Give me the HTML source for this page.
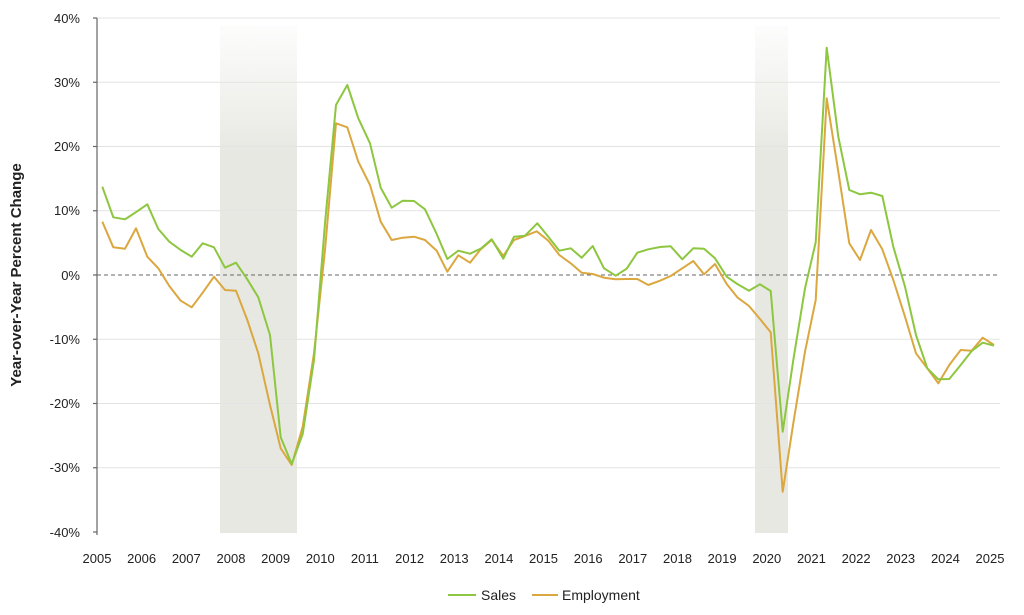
<!DOCTYPE html>
<html><head><meta charset="utf-8"><style>
body{margin:0;background:#fff;}
svg text{font-family:"Liberation Sans",sans-serif;fill:#222;}
</style></head><body>
<svg width="1024" height="610" viewBox="0 0 1024 610" xmlns="http://www.w3.org/2000/svg">
<defs><linearGradient id="rg" x1="0" y1="0" x2="0" y2="1">
<stop offset="0" stop-color="#e8e8e3" stop-opacity="0.1"/><stop offset="0.25" stop-color="#e8e8e3" stop-opacity="1"/><stop offset="1" stop-color="#e8e8e3"/></linearGradient></defs>
<rect x="220" y="26" width="77" height="507" fill="url(#rg)"/>
<rect x="755" y="26" width="33" height="507" fill="url(#rg)"/>
<g stroke="#e3e3e3" stroke-width="1">
<line x1="97" x2="1000" y1="18" y2="18"/><line x1="97" x2="1000" y1="82.25" y2="82.25"/><line x1="97" x2="1000" y1="146.5" y2="146.5"/><line x1="97" x2="1000" y1="210.75" y2="210.75"/><line x1="97" x2="1000" y1="339.25" y2="339.25"/><line x1="97" x2="1000" y1="403.5" y2="403.5"/><line x1="97" x2="1000" y1="467.75" y2="467.75"/>
</g>
<line x1="97" x2="1000" y1="275" y2="275" stroke="#666" stroke-dasharray="4,3" stroke-width="1"/>
<g stroke="#666" stroke-width="1.2"><line x1="97" x2="97" y1="18" y2="535"/>
<line x1="93" x2="97" y1="18" y2="18"/><line x1="93" x2="97" y1="82.25" y2="82.25"/><line x1="93" x2="97" y1="146.5" y2="146.5"/><line x1="93" x2="97" y1="210.75" y2="210.75"/><line x1="93" x2="97" y1="275" y2="275"/><line x1="93" x2="97" y1="339.25" y2="339.25"/><line x1="93" x2="97" y1="403.5" y2="403.5"/><line x1="93" x2="97" y1="467.75" y2="467.75"/><line x1="93" x2="97" y1="532" y2="532"/></g>
<g font-size="13" text-anchor="end">
<text x="80" y="23">40%</text><text x="80" y="87">30%</text><text x="80" y="151">20%</text><text x="80" y="215">10%</text><text x="80" y="280">0%</text><text x="80" y="344">-10%</text><text x="80" y="408">-20%</text><text x="80" y="472">-30%</text><text x="80" y="537">-40%</text></g>
<g font-size="13" text-anchor="middle">
<text x="97" y="563">2005</text><text x="141.6" y="563">2006</text><text x="186.3" y="563">2007</text><text x="231" y="563">2008</text><text x="275.6" y="563">2009</text><text x="320.3" y="563">2010</text><text x="364.9" y="563">2011</text><text x="409.6" y="563">2012</text><text x="454.2" y="563">2013</text><text x="498.9" y="563">2014</text><text x="543.5" y="563">2015</text><text x="588.2" y="563">2016</text><text x="632.8" y="563">2017</text><text x="677.5" y="563">2018</text><text x="722.1" y="563">2019</text><text x="766.8" y="563">2020</text><text x="811.4" y="563">2021</text><text x="856.1" y="563">2022</text><text x="900.7" y="563">2023</text><text x="945.4" y="563">2024</text><text x="990" y="563">2025</text></g>
<text transform="translate(21,275) rotate(-90)" font-size="15" font-weight="bold" text-anchor="middle">Year-over-Year Percent Change</text>
<polyline fill="none" stroke="#dba73f" stroke-width="2" stroke-linejoin="round" points="102.3,221.7 113.3,247.3 125,248.7 136,228.3 147.3,256.7 158.3,268.3 169.3,286 180.7,300.7 191.7,307.3 202.7,292.7 214,276.7 225,290 236,290.7 247.3,320 258.3,353.3 270,405 280.7,448.3 291.7,465 302.7,426.7 314,353.3 325,250 336,123.3 347.3,127.3 358.3,161.7 370,185 380.7,221.7 391.7,240 402.7,237.7 414,236.7 425,240 436.7,250.7 447.3,271.7 458.3,255.3 470,262.7 480.7,249.3 491.7,240 503.3,256 514,240 525,236 536.7,231.3 548.3,240.7 559.3,255 570.7,263.3 581.7,272.7 592.7,274 604,277.7 615.7,279.3 626.7,279 637.3,279 648.3,285 660,280.7 670.7,276 682.3,268.3 693.3,261 704,274.3 715,264 726.7,284 737.3,297.3 749,306 760,319 770.7,332.3 782.7,491.7 793.3,423.3 805,351.7 815.7,300 826.7,98.3 838.3,171.7 849.3,243.3 860,260 871,230 882.3,249.3 893.3,280 905,316.7 916,353.3 927.3,368.3 938.3,383.3 949.3,365 960.7,350 971.7,350.7 982.7,337.7 994,345"/>
<polyline fill="none" stroke="#8dc63f" stroke-width="2" stroke-linejoin="round" points="102.3,186.7 113.3,217.3 125,219.3 136.7,211.7 147.3,204.3 158.3,229 169.3,241.7 180.7,250 191.7,256.7 202.7,243.3 214,247.3 225,267.7 236,262.7 247.3,279.3 258.3,297.3 270,335 280.7,437.3 291.7,464 302.7,434 314,360 325,223.3 336,105 347.3,85 358.3,118.3 370,143.3 380.7,187.7 391.7,207.7 402.7,200.7 414,201 425,209.3 436.7,234 447.3,259 458.3,250.7 470,253.7 480.7,248.7 491.7,239.3 503.3,258.7 514,236.7 525,235.7 537.3,223.3 548.3,236.7 559.3,250.7 570.7,248.3 581.7,257.7 592.7,246 604,268.3 615.7,275.7 626.7,268.7 637.3,252.7 648.3,249.3 660,247 670.7,246.3 682.3,259.3 693.3,248.3 704,248.7 715,258.3 726.7,276.7 737.3,284 749,290.7 760,284.3 770.7,291 782.7,431.7 793.3,360 805,288.3 815.7,242.3 826.7,47.7 838.3,136.7 849.3,190 860,194.3 871,192.7 882.3,196 893.3,246.7 905,286.7 916,335 927.3,368.3 938.3,379.3 949.3,379 960.7,365 971.7,351 982.7,342.7 994,345.7"/>
<line x1="448" x2="476" y1="595" y2="595" stroke="#8dc63f" stroke-width="2"/>
<text x="481" y="600" font-size="14">Sales</text>
<line x1="532" x2="558" y1="595" y2="595" stroke="#dba73f" stroke-width="2"/>
<text x="562" y="600" font-size="14">Employment</text>
</svg>
</body></html>
